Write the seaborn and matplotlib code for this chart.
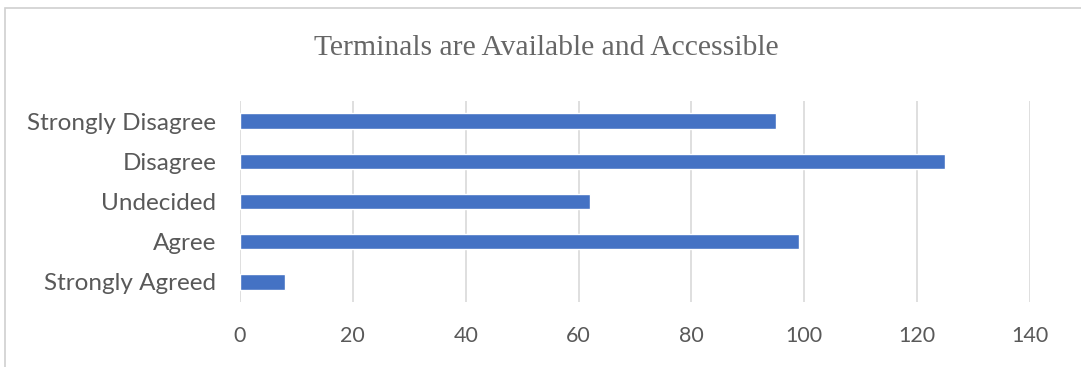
import matplotlib
matplotlib.use("Agg")
import matplotlib.pyplot as plt
import matplotlib.patches as patches
import pandas as pd
import seaborn as sns

# ---------------------------------
# Data
# ---------------------------------

responses = ["Strongly Disagree", "Disagree", "Undecided", "Agree", "Strongly Agreed"]
counts = [95, 125, 62, 99, 8]
x_ticks = [0, 20, 40, 60, 80, 100, 120, 140]

df = pd.DataFrame({"response": responses, "count": counts})

# ---------------------------------
# Plot
# ---------------------------------

sns.set_style("white")
plt.rcParams["font.family"] = ["Lato", "DejaVu Sans"]

fig = plt.figure(figsize=(10.81, 3.67), dpi=100)
ax = fig.add_axes([240 / 1081, 65 / 367, 790 / 1081, 201 / 367])

sns.barplot(
    data=df,
    x="count",
    y="response",
    order=responses,
    color="#4472C4",
    width=0.38,
    saturation=1,
    ax=ax
)

ax.set_xlim(0, 140)
ax.set_ylim(4.5, -0.5)
ax.set_xticks(x_ticks)
ax.grid(axis="x", color="#d9d9d9", linewidth=1.2)
ax.set_axisbelow(True)
for s in ax.spines.values():
    s.set_visible(False)

ax.set_xlabel("")
ax.set_ylabel("")
ax.tick_params(axis="both", length=0, labelcolor="#595959")
ax.tick_params(axis="y", labelsize=17.5, pad=17)
ax.tick_params(axis="x", labelsize=15.5, pad=17)

fig.text(0.505, 1 - 48 / 367, "Terminals are Available and Accessible",
         ha="center", va="center", fontsize=21.3, color="#666666",
         family=["Liberation Serif", "DejaVu Serif"])

# chart border
border = patches.Rectangle((5 / 1081, -0.05), 1.1, 1 - 8 / 367 + 0.05,
                           transform=fig.transFigure, fill=False,
                           edgecolor="#d0d0d0", linewidth=1.2)
fig.patches.append(border)

fig.savefig("out.png", dpi=100)
